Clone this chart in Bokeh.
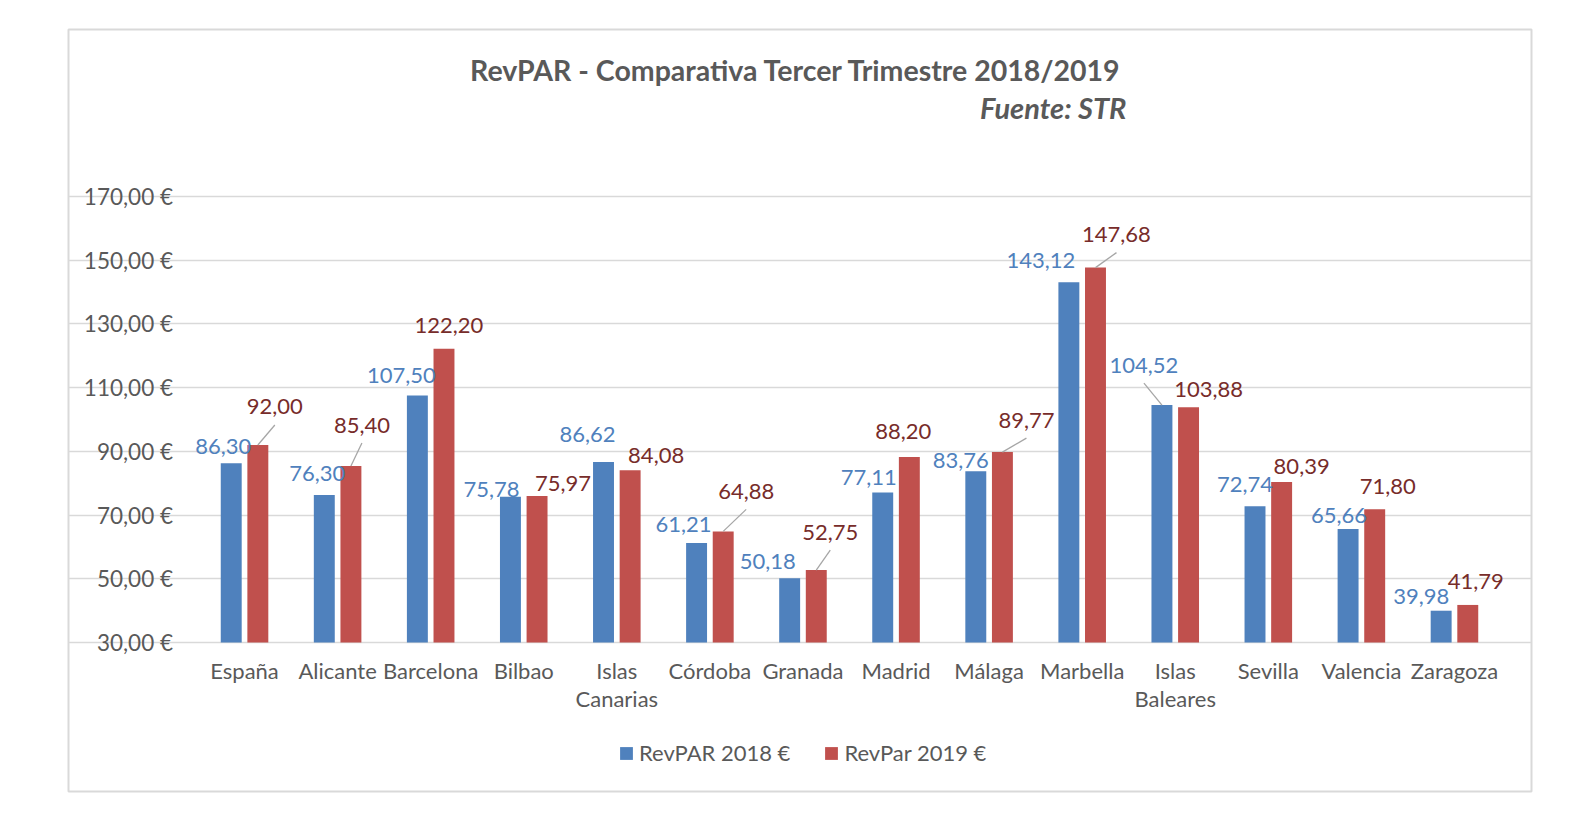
import numpy as np
from bokeh.plotting import figure
from bokeh.models import (ColumnDataSource, Range1d, FixedTicker, Legend,
                          LegendItem, Label, LinearAxis, Spacer)
from bokeh.layouts import column, row
from bokeh.embed import file_html
from bokeh.resources import INLINE
from bokeh.core.properties import value

# ---------------- data ----------------
categories = ["España", "Alicante", "Barcelona", "Bilbao", "Islas Canarias",
              "Córdoba", "Granada", "Madrid", "Málaga", "Marbella",
              "Islas Baleares", "Sevilla", "Valencia", "Zaragoza"]
revpar_2018 = [86.30, 76.30, 107.50, 75.78, 86.62, 61.21, 50.18, 77.11,
               83.76, 143.12, 104.52, 72.74, 65.66, 39.98]
revpar_2019 = [92.00, 85.40, 122.20, 75.97, 84.08, 64.88, 52.75, 88.20,
               89.77, 147.68, 103.88, 80.39, 71.80, 41.79]
y_ticks = [30, 50, 70, 90, 110, 130, 150, 170]
y_tick_labels = ["30,00 €", "50,00 €", "70,00 €", "90,00 €", "110,00 €",
                 "130,00 €", "150,00 €", "170,00 €"]
series_names = ["RevPAR 2018 €", "RevPar 2019 €"]
title_text = "RevPAR  - Comparativa Tercer Trimestre 2018/2019"
subtitle_text = "Fuente: STR"

# ------------- layout tweaks (hand-placed data labels, in pixels) -------------
lab18_dx = [-8, -7, -16, -19, -16, -13, -22, -14, -15, -28, -18, -10, -9, -20]
lab18_dy = [-17, -22, -20, -7, -28, -19, -17, -15, -11, -22, -40, -22, -13, -14]
lab19_dx = [17, 11, 5, 26, 26, 23, 14, -6, 24, 21, 20, 20, 13, 8]
lab19_dy = [-38, -41, -23, -13, -15, -40, -38, -26, -32, -33, -18, -15, -23, -23]
lead18 = [False] * 10 + [True] + [False] * 3
lead19 = [True, True, False, False, False, True, True, False, True, True,
          False, False, False, False]

BLUE, RED = "#4F81BD", "#C0504D"
BLUE_TXT, RED_TXT = "#4F81BD", "#772C2A"
GREY_TXT, GRID, BORDER = "#595959", "#D9D9D9", "#D9D9D9"
FONT = "Lato"

# pixel layout (page coordinates)
FRAME_L, FRAME_R, FRAME_T, FRAME_B = 68, 1531, 29, 791      # chart border
PLOT_L, PLOT_R, PLOT_T, PLOT_B = 197.5, 1500.5, 196, 642    # bar area
PAD = 2

n = len(categories)
Y0, Y1 = y_ticks[0], y_ticks[-1]
ppc = (PLOT_R - PLOT_L) / n            # pixels per category
ppu = (PLOT_B - PLOT_T) / (Y1 - Y0)    # pixels per value unit
x_lo = -(PLOT_L - FRAME_L) / ppc
x_hi = n + (FRAME_R - PLOT_R) / ppc
y_hi = Y1 + (PLOT_T - FRAME_T) / ppu
y_lo = Y0 - (FRAME_B - PLOT_B) / ppu


def px_x(px):
    return (px - PLOT_L) / ppc


def px_y(py):
    return Y0 + (PLOT_B - py) / ppu


OFF, BAR_W = 0.143, 0.225
xc = np.arange(n) + 0.5
x18, x19 = xc - OFF, xc + OFF


def fmt(v):
    return f"{v:.2f}".replace(".", ",")


src = ColumnDataSource(dict(
    x18=x18, x19=x19, v18=revpar_2018, v19=revpar_2019,
    t18=[fmt(v) for v in revpar_2018], t19=[fmt(v) for v in revpar_2019],
    dx18=lab18_dx, dy18=lab18_dy, dx19=lab19_dx, dy19=lab19_dy,
))

p = figure(x_range=Range1d(x_lo, x_hi), y_range=Range1d(y_lo, y_hi),
           width=FRAME_R - FRAME_L + 2 * PAD, height=FRAME_B - FRAME_T + 2 * PAD,
           min_border_left=PAD, min_border_right=PAD, min_border_top=PAD,
           min_border_bottom=PAD, output_backend="svg", toolbar_location=None,
           background_fill_color="white", border_fill_color="white")
p.title.visible = False
p.outline_line_color = BORDER
p.outline_line_width = 2

r18 = p.vbar(x="x18", top="v18", bottom=Y0, width=BAR_W, source=src,
             fill_color=BLUE, line_color=None)
r19 = p.vbar(x="x19", top="v19", bottom=Y0, width=BAR_W, source=src,
             fill_color=RED, line_color=None)


def leaders(xs, vals, dxs, dys, flags):
    x0, y0, x1, y1 = [], [], [], []
    for xb, v, dx, dy, f in zip(xs, vals, dxs, dys, flags):
        if f:
            x0.append(xb); y0.append(v)
            x1.append(xb + dx / ppc); y1.append(v - (dy + 18) / ppu)
    return dict(x0=x0, y0=y0, x1=x1, y1=y1)


for d in (leaders(x18, revpar_2018, lab18_dx, lab18_dy, lead18),
          leaders(x19, revpar_2019, lab19_dx, lab19_dy, lead19)):
    p.segment(x0="x0", y0="y0", x1="x1", y1="y1", source=ColumnDataSource(d),
              line_color="#A6A6A6", line_width=1.3)

p.text(x="x18", y="v18", text="t18", x_offset="dx18", y_offset="dy18",
       source=src, text_align="center", text_baseline="middle",
       text_font=value(FONT), text_font_size="22px", text_color=BLUE_TXT)
p.text(x="x19", y="v19", text="t19", x_offset="dx19", y_offset="dy19",
       source=src, text_align="center", text_baseline="middle",
       text_font=value(FONT), text_font_size="22px", text_color=RED_TXT)

# grid (only across the bar area)
p.xgrid.grid_line_color = None
p.ygrid.ticker = FixedTicker(ticks=y_ticks)
p.ygrid.grid_line_color = GRID
p.ygrid.grid_line_width = 1.5
p.ygrid.bounds = (0, n)

# y axis
yax = p.yaxis[0]
yax.fixed_location = 0
yax.ticker = FixedTicker(ticks=y_ticks)
yax.major_label_overrides = {t: l for t, l in zip(y_ticks, y_tick_labels)}
yax.major_label_standoff = 25

# category axes (two lines of text)
first_line = [c.split(" ")[0] if " " in c else c for c in categories]
second_line = [c.split(" ", 1)[1] if " " in c else "" for c in categories]
xax = p.xaxis[0]
xax.fixed_location = Y0
xax.ticker = FixedTicker(ticks=list(xc))
xax.major_label_overrides = {float(t): l for t, l in zip(xc, first_line)}
xax.major_label_standoff = 14
xax2 = LinearAxis(fixed_location=Y0, ticker=FixedTicker(ticks=list(xc)),
                  major_label_overrides={float(t): l for t, l in zip(xc, second_line)},
                  major_label_standoff=42)
p.add_layout(xax2, "below")

for ax in (xax, xax2, yax):
    ax.axis_line_color = None
    ax.major_tick_line_color = None
    ax.minor_tick_line_color = None
    ax.major_tick_in = 0
    ax.major_tick_out = 0
    ax.major_label_text_font = FONT
    ax.major_label_text_font_size = "22px"
    ax.major_label_text_color = GREY_TXT
yax.major_label_text_font_size = "22.5px"

# titles
p.add_layout(Label(x=px_x(799), y=px_y(69), text=title_text,
                   text_align="center", text_baseline="middle",
                   text_font=FONT, text_font_size="28.5px",
                   text_font_style="bold", text_color=GREY_TXT))
p.add_layout(Label(x=px_x(1126), y=px_y(107), text=subtitle_text,
                   text_align="right", text_baseline="middle",
                   text_font=FONT, text_font_size="29px",
                   text_font_style="bold italic", text_color=GREY_TXT))

# legend
legend = Legend(items=[LegendItem(label=series_names[0], renderers=[r18]),
                       LegendItem(label=series_names[1], renderers=[r19])],
                location=(618 - FRAME_L, FRAME_B - 740 - 26),
                orientation="horizontal",
                glyph_width=16, glyph_height=16, label_height=26,
                label_standoff=5, spacing=33, padding=0, margin=0,
                border_line_color=None, background_fill_alpha=0,
                label_text_font=FONT, label_text_font_size="22px",
                label_text_color=GREY_TXT)
p.add_layout(legend, "center")

layout = column(Spacer(height=FRAME_T - PAD), row(Spacer(width=FRAME_L - PAD), p))
open("out.html", "w").write(file_html(layout, INLINE))
